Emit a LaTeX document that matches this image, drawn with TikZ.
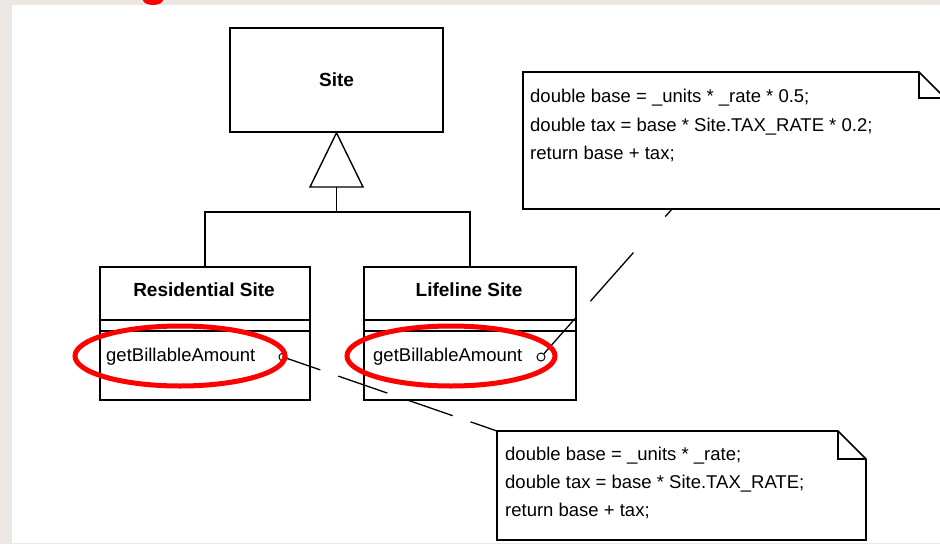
\documentclass[tikz,border=0pt]{standalone}
\usepackage{fontspec}
\setmainfont{Liberation Sans}
\usetikzlibrary{shapes.geometric}
\definecolor{framegrey}{HTML}{ECE7E3}
\definecolor{marker}{HTML}{FF0000}
\begin{document}
\begin{tikzpicture}[x=1pt,y=-1pt,
  outline/.style={draw=black, line width=1.6pt},
  classbox/.style={outline, fill=white, inner sep=0pt},
  titletext/.style={font=\fontsize{19}{23}\selectfont\bfseries, inner sep=0pt},
  codetext/.style={font=\fontsize{18.5}{23}\selectfont, inner sep=0pt, anchor=base west},
  methodtext/.style={font=\fontsize{18.5}{23}\selectfont, inner sep=0pt, anchor=west},
  port/.style={circle, draw=black, line width=1pt, fill=white, inner sep=0pt, minimum size=8pt},
  notelink/.style={draw=black, line width=1.3pt},
  hilite/.style={ellipse, draw=marker, line width=5pt, inner sep=0pt}]

% page frame
\useasboundingbox (0,0) rectangle (940,544);
\fill[framegrey] (0,0) rectangle (940,544);
\fill[white] (12,5) rectangle (940,543);
\fill[marker] (153,0) ellipse (10 and 5);

% note boxes with folded corners
\draw[outline, fill=white] (523,72) -- (919,72) -- (945,98) -- (945,209) -- (523,209) -- cycle;
\draw[outline] (919,72) -- (919,98) -- (945,98);
\coordinate (n1tip) at (672,209);
\node[codetext] (n1a) at (530,102.5) {double base = \_units * \_rate * 0.5;};
\node[codetext] (n1b) at (530,131) {double tax = base * Site.TAX\_RATE * 0.2;};
\node[codetext] (n1c) at (530,159.5) {return base + tax;};

\draw[outline, fill=white] (497,431) -- (838,431) -- (866,459) -- (866,540) -- (497,540) -- cycle;
\draw[outline] (838,431) -- (838,459) -- (866,459);
\coordinate (n2tip) at (497,431);
\node[codetext] (n2a) at (505,460.5) {double base = \_units * \_rate;};
\node[codetext] (n2b) at (505,488.5) {double tax = base * Site.TAX\_RATE;};
\node[codetext] (n2c) at (505,516.5) {return base + tax;};

% classes
\node[classbox, titletext, minimum width=213pt, minimum height=104pt] (site) at (336.5,80) {Site};

\node[classbox, minimum width=210pt, minimum height=133pt, anchor=north west] (res) at (99,266) {};
\node[titletext] (restitle) at (204,290) {Residential Site};
\draw[outline] ([yshift=-54pt]res.north west) -- ([yshift=-54pt]res.north east);
\draw[outline] ([yshift=-65pt]res.north west) -- ([yshift=-65pt]res.north east);
\node[methodtext] (resop) at (106,357) {getBillableAmount};
\node[port] (resport) at (283,357) {};

\node[classbox, minimum width=212pt, minimum height=133pt, anchor=north west] (life) at (363,266) {};
\node[titletext] (lifetitle) at (469,290) {Lifeline Site};
\draw[outline] ([yshift=-54pt]life.north west) -- ([yshift=-54pt]life.north east);
\draw[outline] ([yshift=-65pt]life.north west) -- ([yshift=-65pt]life.north east);
\node[methodtext] (lifeop) at (373,357) {getBillableAmount};
\node[port] (lifeport) at (541,357) {};

% generalization
\coordinate (trib) at (336.5,187);
\coordinate (joint) at (336.5,212);
\draw[outline, line width=1.4pt, fill=white] (site.south) -- ([xshift=-26.5pt]trib) -- ([xshift=26.5pt]trib) -- cycle;
\draw[outline] (trib) -- (joint);
\draw[outline] (res.north) |- (joint) -| (life.north);

% note attachments
\draw[notelink, dash pattern=on 47pt off 23pt on 65pt off 48pt on 15pt] (lifeport) -- (n1tip);
\draw[notelink, dash pattern=on 35pt off 19pt on 52pt off 19pt on 50pt off 19pt on 40pt] (resport) -- (n2tip);

% highlights
\node[hilite, minimum width=210pt, minimum height=60pt] (reshl) at (180,356) {};
\node[hilite, minimum width=208pt, minimum height=60pt] (lifehl) at (451,356) {};
\end{tikzpicture}
\end{document}
